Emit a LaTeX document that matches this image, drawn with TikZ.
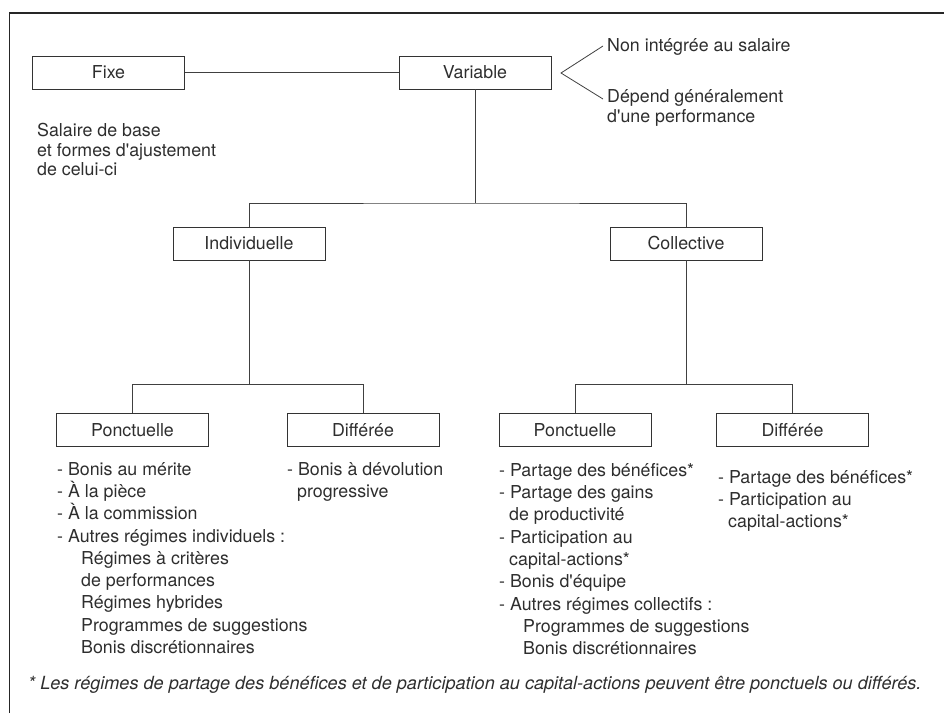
\documentclass[tikz,border=0pt]{standalone}
\usepackage{fontspec}
\setmainfont{TeX Gyre Heros}[Ligatures=TeXOff]
\begin{document}
\begin{tikzpicture}[x=1pt,y=-1pt,
  box/.style={draw=black!80, line width=0.9pt, minimum width=152pt, minimum height=33pt, inner sep=0pt, font=\fontsize{17.8}{21}\selectfont, text=black!82},
  conn/.style={draw=black!75, line width=0.8pt},
  lst/.style={anchor=north west, align=left, inner sep=0pt, font=\fontsize{17.8}{22.3}\selectfont, text=black!82}]
\useasboundingbox (0,0) rectangle (944,713);
\draw[line width=1.3pt, black!85] (9.5,713) -- (9.5,13) -- (944,13);

\node[box] (fixe) at (108.5,72.5) {Fixe};
\node[box] (var) at (475,72.5) {Variable};
\node[box] (ind) at (249,243.5) {Individuelle};
\node[box] (col) at (686,243.5) {Collective};
\node[box] (ip) at (132.5,430) {Ponctuelle};
\node[box] (id) at (363,430) {Différée};
\node[box] (cp) at (575,430) {Ponctuelle};
\node[box] (cd) at (792.5,430) {Différée};

\draw[conn] (fixe) -- (var);
\coordinate (j1) at (475,203);
\draw[conn] (var) -- (j1);
\draw[conn] (ind) |- (j1) -| (col);
\coordinate (j2) at (249,384);
\draw[conn] (ind) -- (j2);
\draw[conn] (ip) |- (j2) -| (id);
\coordinate (j3) at (686,384);
\draw[conn] (col) -- (j3);
\draw[conn] (cp) |- (j3) -| (cd);

\coordinate (chA) at (603,46);
\coordinate (chT) at (561,73);
\coordinate (chB) at (603,99);
\draw[conn] (chA) -- (chT) -- (chB);

\node[lst] (non) at (607,38) {Non intégrée au salaire};
\node[lst, font=\fontsize{17.8}{20}\selectfont] (dep) at (607,89) {Dépend généralement\\d'une performance};
\node[lst, font=\fontsize{17.8}{19.5}\selectfont] (sal) at (37,123) {Salaire de base\\et formes d'ajustement\\de celui-ci};

\node[lst] (lipl) at (57,462) {- Bonis au mérite\\- À la pièce\\- À la commission\\- Autres régimes individuels :\\\hspace*{24pt}Régimes à critères\\\hspace*{24pt}de performances\\\hspace*{24pt}Régimes hybrides\\\hspace*{24pt}Programmes de suggestions\\\hspace*{24pt}Bonis discrétionnaires};
\node[lst] (lidl) at (287,462) {- Bonis à dévolution\\\hspace*{10pt}progressive};
\node[lst] (lcpl) at (499,463) {- Partage des bénéfices*\\- Partage des gains\\\hspace*{10pt}de productivité\\- Participation au\\\hspace*{10pt}capital-actions*\\- Bonis d'équipe\\- Autres régimes collectifs :\\\hspace*{24pt}Programmes de suggestions\\\hspace*{24pt}Bonis discrétionnaires};
\node[lst] (lcdl) at (718,470) {- Partage des bénéfices*\\- Participation au\\\hspace*{10pt}capital-actions*};

\node[lst, font=\fontsize{18.1}{21}\selectfont\itshape] (foot) at (28,676) {* Les régimes de partage des bénéfices et de participation au capital-actions peuvent être ponctuels ou différés.};
\end{tikzpicture}
\end{document}
